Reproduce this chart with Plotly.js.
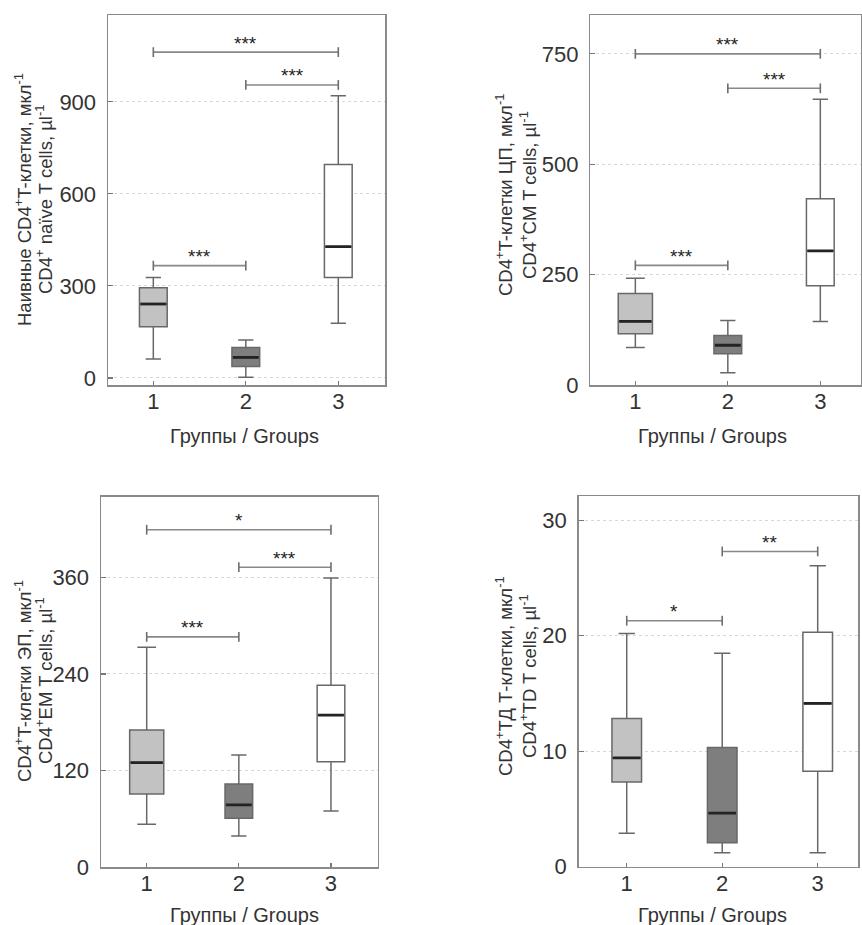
<!DOCTYPE html>
<html><head><meta charset="utf-8">
<script src="https://cdn.plot.ly/plotly-3.0.1.min.js"></script>
<style>html,body{margin:0;padding:0;background:#fff;overflow:hidden}#chart{width:862px;height:925px}</style>
</head><body><div id="chart"></div>
<script>
// ---- data ----
const groups = [1, 2, 3];
const groupTickLabels = ['1', '2', '3'];
const xAxisTitle = 'Группы / Groups';

// Panel A: naive CD4+ T cells
const naiveLow  = [62, 2, 178];
const naiveQ1   = [167, 37, 327];
const naiveMed  = [241, 67, 428];
const naiveQ3   = [294, 99, 696];
const naiveHigh = [327, 124, 920];
const naiveTicks = [0, 300, 600, 900];
const naiveBrFrom = [1, 2, 1];
const naiveBrTo   = [3, 3, 2];
const naiveBrY    = [1062, 955, 366];
const naiveBrText = ['***', '***', '***'];
const naiveTitle1 = 'Наивные CD4<sup>+</sup>T-клетки, мкл<sup>-1</sup>';
const naiveTitle2 = 'CD4<sup>+</sup> naïve T cells, µl<sup>-1</sup>';

// Panel B: central memory
const cmLow  = [85, 28, 144];
const cmQ1   = [116, 71, 225];
const cmMed  = [144, 90, 304];
const cmQ3   = [207, 112, 422];
const cmHigh = [242, 146, 647];
const cmTicks = [0, 250, 500, 750];
const cmBrFrom = [1, 2, 1];
const cmBrTo   = [3, 3, 2];
const cmBrY    = [750, 672, 271];
const cmBrText = ['***', '***', '***'];
const cmTitle1 = 'CD4<sup>+</sup>T-клетки ЦП, мкл<sup>-1</sup>';
const cmTitle2 = 'CD4<sup>+</sup>CM T cells, µl<sup>-1</sup>';

// Panel C: effector memory
const emLow  = [53.5, 39, 70];
const emQ1   = [91, 61, 131];
const emMed  = [130, 77.5, 189];
const emQ3   = [170.5, 103.5, 226];
const emHigh = [273, 139.5, 359];
const emTicks = [0, 120, 240, 360];
const emBrFrom = [1, 2, 1];
const emBrTo   = [3, 3, 2];
const emBrY    = [419, 372.5, 286];
const emBrText = ['*', '***', '***'];
const emTitle1 = 'CD4<sup>+</sup>T-клетки ЭП, мкл<sup>-1</sup>';
const emTitle2 = 'CD4<sup>+</sup>EM T cells, µl<sup>-1</sup>';

// Panel D: terminally differentiated
const tdLow  = [2.9, 1.2, 1.2];
const tdQ1   = [7.33, 2.07, 8.26];
const tdMed  = [9.42, 4.64, 14.14];
const tdQ3   = [12.84, 10.32, 20.3];
const tdHigh = [20.2, 18.48, 26.06];
const tdTicks = [0, 10, 20, 30];
const tdBrFrom = [1, 2];
const tdBrTo   = [2, 3];
const tdBrY    = [21.3, 27.3];
const tdBrText = ['*', '**'];
const tdTitle1 = 'CD4<sup>+</sup>ТД Т-клетки, мкл<sup>-1</sup>';
const tdTitle2 = 'CD4<sup>+</sup>TD T cells, µl<sup>-1</sup>';

// ---- layout / styling ----
const W = 862, H = 925;
const px = v => v / W, py = v => 1 - v / H;
const FONT = 'Liberation Sans, Arial, sans-serif';
const fills = ['#c2c2c2', '#7e7e7e', '#ffffff'];
const boxLine = '#686868';

const panels = [
  {low: naiveLow, q1: naiveQ1, med: naiveMed, q3: naiveQ3, high: naiveHigh, ticks: naiveTicks,
   brFrom: naiveBrFrom, brTo: naiveBrTo, brY: naiveBrY, brText: naiveBrText, t1: naiveTitle1, t2: naiveTitle2,
   xdom: [px(108), px(385)], ydom: [py(385), py(15)], xr: [0.51, 3.505], yr: [-23, 1183],
   widths: [0.3, 0.3, 0.3], tx: [23, 44], ty: 200, xtx: 244, xty: 436},
  {low: cmLow, q1: cmQ1, med: cmMed, q3: cmQ3, high: cmHigh, ticks: cmTicks,
   brFrom: cmBrFrom, brTo: cmBrTo, brY: cmBrY, brText: cmBrText, t1: cmTitle1, t2: cmTitle2,
   xdom: [px(590.3), px(861)], ydom: [py(385), py(15)], xr: [0.513, 3.44], yr: [0, 838],
   widths: [0.37, 0.3, 0.3], tx: [504, 528], ty: 195, xtx: 712.7, xty: 436},
  {low: emLow, q1: emQ1, med: emMed, q3: emQ3, high: emHigh, ticks: emTicks,
   brFrom: emBrFrom, brTo: emBrTo, brY: emBrY, brText: emBrText, t1: emTitle1, t2: emTitle2,
   xdom: [px(101), px(377.7)], ydom: [py(867.3), py(496.7)], xr: [0.504, 3.507], yr: [0, 460],
   widths: [0.37, 0.3, 0.3], tx: [23, 44], ty: 681, xtx: 244, xty: 915},
  {low: tdLow, q1: tdQ1, med: tdMed, q3: tdQ3, high: tdHigh, ticks: tdTicks,
   brFrom: tdBrFrom, brTo: tdBrTo, brY: tdBrY, brText: tdBrText, t1: tdTitle1, t2: tdTitle2,
   xdom: [px(578.7), px(858)], ydom: [py(866.7), py(496)], xr: [0.497, 3.422], yr: [0, 32.1],
   widths: [0.31, 0.31, 0.31], tx: [504, 528], ty: 676, xtx: 712.7, xty: 915}
];

const traces = [];
const annotations = [];
const layout = {
  width: W, height: H, margin: {l: 0, r: 0, t: 0, b: 0},
  paper_bgcolor: '#fff', plot_bgcolor: '#fff', showlegend: false,
  font: {family: FONT, color: '#333'}
};

panels.forEach((p, i) => {
  const n = i === 0 ? '' : String(i + 1);
  const xa = 'x' + n, ya = 'y' + n;
  groups.forEach((g, k) => {
    traces.push({
      type: 'box', x: [g], q1: [p.q1[k]], median: [p.med[k]], q3: [p.q3[k]],
      lowerfence: [p.low[k]], upperfence: [p.high[k]],
      width: p.widths[k], whiskerwidth: 0.55, fillcolor: fills[k],
      line: {color: boxLine, width: 1.5}, boxpoints: false,
      xaxis: xa, yaxis: ya, hoverinfo: 'skip', showlegend: false
    });
  });
  // dark median lines on top
  const mx = [], my = [];
  groups.forEach((g, k) => {
    mx.push(g - p.widths[k] / 2 + 0.01, g + p.widths[k] / 2 - 0.01, null);
    my.push(p.med[k], p.med[k], null);
  });
  traces.push({type: 'scatter', mode: 'lines', x: mx, y: my, xaxis: xa, yaxis: ya,
    line: {color: '#232323', width: 2.8}, hoverinfo: 'skip', showlegend: false});
  // significance brackets
  p.brFrom.forEach((a, k) => {
    const b = p.brTo[k], h = p.brY[k];
    traces.push({type: 'scatter', mode: 'lines+markers', x: [a, b], y: [h, h],
      xaxis: xa, yaxis: ya, line: {color: '#888', width: 1.6},
      marker: {symbol: 'line-ns', size: 7, color: '#6e6e6e', line: {width: 1.6, color: '#6e6e6e'}},
      hoverinfo: 'skip', showlegend: false, cliponaxis: false});
    annotations.push({xref: xa, yref: ya, x: (a + b) / 2, y: h, text: p.brText[k],
      showarrow: false, xanchor: 'center', yanchor: 'middle', yshift: 9,
      font: {family: FONT, size: 19, color: '#1e1e1e'}});
  });
  layout['xaxis' + n] = {
    domain: p.xdom, range: p.xr, anchor: ya, tickmode: 'array', tickvals: groups, ticktext: groupTickLabels,
    ticks: 'inside', ticklen: 4, tickcolor: '#777', tickwidth: 1.2,
    showline: true, linecolor: '#8a8a8a', linewidth: 1.5, mirror: true,
    showgrid: false, zeroline: false, ticklabelstandoff: -4,
    tickfont: {family: FONT, size: 22, color: '#333'}, fixedrange: true
  };
  layout['yaxis' + n] = {
    domain: p.ydom, range: p.yr, anchor: xa, tickmode: 'array', tickvals: p.ticks,
    ticks: 'inside', ticklen: 5, tickcolor: '#777', tickwidth: 1.2,
    showline: true, linecolor: '#8a8a8a', linewidth: 1.5, mirror: true,
    showgrid: true, gridcolor: '#d8d8d8', griddash: '3px,3px', gridwidth: 1, zeroline: false,
    ticklabelstandoff: 6, tickfont: {family: FONT, size: 22, color: '#333'}, fixedrange: true
  };
  [p.t1, p.t2].forEach((t, k) => {
    annotations.push({xref: 'paper', yref: 'paper', x: px(p.tx[k]), y: py(p.ty), text: t,
      textangle: -90, showarrow: false, xanchor: 'center', yanchor: 'middle',
      font: {family: FONT, size: 18.5, color: '#333'}});
  });
  annotations.push({xref: 'paper', yref: 'paper', x: px(p.xtx), y: py(p.xty), text: xAxisTitle,
    showarrow: false, xanchor: 'center', yanchor: 'middle',
    font: {family: FONT, size: 20, color: '#333'}});
});
layout.annotations = annotations;

Plotly.newPlot('chart', traces, layout, {staticPlot: true, displayModeBar: false});
</script>
</body></html>
